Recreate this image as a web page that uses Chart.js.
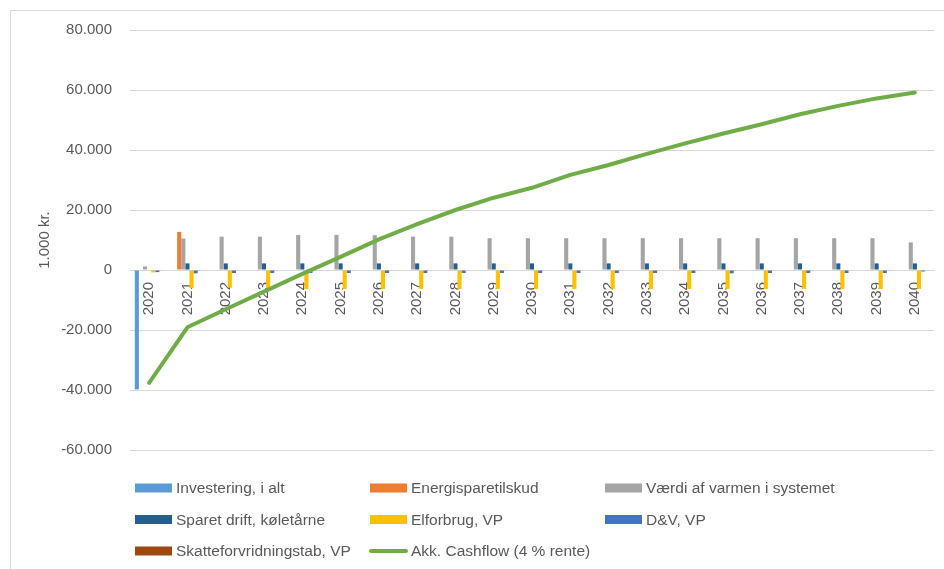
<!DOCTYPE html>
<html>
<head>
<meta charset="utf-8">
<script src="https://cdn.jsdelivr.net/npm/chart.js@4/dist/chart.umd.min.js"></script>
<style>
  html, body { margin: 0; padding: 0; background: #fff; }
  #wrap { width: 944px; height: 569px; position: relative; }
</style>
</head>
<body>
<div id="wrap"><canvas id="c" width="944" height="569"></canvas></div>
<script>
// Values in 1.000 kr.
const years = ['2020','2021','2022','2023','2024','2025','2026','2027','2028','2029','2030',
               '2031','2032','2033','2034','2035','2036','2037','2038','2039','2040'];

const investering = [-39800, null, null, null, null, null, null, null, null, null, null,
                     null, null, null, null, null, null, null, null, null, null];
const energisparetilskud = [null, 12700, null, null, null, null, null, null, null, null, null,
                            null, null, null, null, null, null, null, null, null, null];
const vaerdiVarme = [1200, 10500, 11100, 11100, 11700, 11700, 11600, 11100, 11100, 10600, 10600,
                     10600, 10600, 10600, 10600, 10600, 10600, 10600, 10600, 10600, 9200];
const sparetDrift = [0, 2200, 2200, 2200, 2200, 2200, 2200, 2200, 2200, 2200, 2200,
                     2200, 2200, 2200, 2200, 2200, 2200, 2200, 2200, 2200, 2200];
const elforbrug = [-800, -6100, -5900, -6100, -6300, -6300, -6300, -6300, -6300, -6300, -6300,
                   -6300, -6300, -6300, -6300, -6300, -6300, -6300, -6300, -6300, -6300];
const dogV = [-700, -1100, -1000, -1000, -1000, -1000, -1000, -1000, -1000, -1000, -1000,
              -1000, -1000, -1000, -1000, -1100, -1000, -1000, -1000, -1000, -500];
const skatteforvridning = [-150, -150, -150, -150, -150, -150, -150, -150, -150, -150, -150,
                           -150, -150, -150, -150, -150, -150, -150, -150, -150, -150];
const akkCashflow = [-37600, -19100, -13100, -7200, -1300, 4400, 10200, 15300, 20000, 24100, 27400,
                     31700, 35000, 38700, 42200, 45500, 48600, 51900, 54700, 57200, 59200];

const yTicks = { min: -60000, max: 80000, step: 20000 };

const FONT = '"Liberation Sans", Arial, sans-serif';
const TEXT = '#595959';
const GRID = '#d9d9d9';

function danishThousands(v) {
  const s = Math.abs(v).toString().replace(/\B(?=(\d{3})+(?!\d))/g, '.');
  return (v < 0 ? '-' : '') + s;
}

function bar(label, data, color) {
  return {
    type: 'bar', label, data,
    backgroundColor: color, borderWidth: 0,
    barPercentage: 1.0, categoryPercentage: 0.75,
    order: 1
  };
}

// Outer frame of the chart object
const frame = {
  id: 'frame',
  beforeDraw(chart) {
    const ctx = chart.ctx;
    ctx.save();
    ctx.fillStyle = '#fff';
    ctx.fillRect(0, 0, chart.width, chart.height);
    ctx.strokeStyle = GRID;
    ctx.lineWidth = 1;
    ctx.strokeRect(10.5, 10.5, chart.width + 20, chart.height + 20);
    ctx.restore();
  }
};

// Three-column legend under the plot
const gridLegend = {
  id: 'gridLegend',
  afterDraw(chart) {
    const ctx = chart.ctx;
    const sets = chart.data.datasets;
    ctx.save();
    ctx.font = '15.5px ' + FONT;
    ctx.textBaseline = 'middle';
    ctx.textAlign = 'left';
    sets.forEach((d, i) => {
      const col = i % 3, row = Math.floor(i / 3);
      const x = 135 + col * 235;
      const y = 488 + row * 31.5;
      if (d.type === 'line') {
        ctx.strokeStyle = d.borderColor;
        ctx.lineWidth = 4;
        ctx.lineCap = 'round';
        ctx.beginPath();
        ctx.moveTo(x + 1, y);
        ctx.lineTo(x + 36, y);
        ctx.stroke();
      } else {
        ctx.fillStyle = d.backgroundColor;
        ctx.fillRect(x, y - 4.5, 37, 9);
      }
      ctx.fillStyle = TEXT;
      ctx.fillText(d.label, x + 41, y + 1);
    });
    ctx.restore();
  }
};

new Chart(document.getElementById('c'), {
  type: 'bar',
  data: {
    labels: years,
    datasets: [
      bar('Investering, i alt', investering, '#5b9bd5'),
      bar('Energisparetilskud', energisparetilskud, '#ed7d31'),
      bar('Værdi af varmen i systemet', vaerdiVarme, '#a5a5a5'),
      bar('Sparet drift, køletårne', sparetDrift, '#255e91'),
      bar('Elforbrug, VP', elforbrug, '#ffc000'),
      bar('D&V, VP', dogV, '#4472c4'),
      bar('Skatteforvridningstab, VP', skatteforvridning, '#9e480e'),
      {
        type: 'line', label: 'Akk. Cashflow (4 % rente)', data: akkCashflow,
        borderColor: '#70ad47', backgroundColor: '#70ad47',
        borderWidth: 4, pointRadius: 0, tension: 0, fill: false,
        borderCapStyle: 'round', borderJoinStyle: 'round',
        order: 0
      }
    ]
  },
  options: {
    responsive: false,
    animation: false,
    devicePixelRatio: 1,
    layout: { padding: { left: 30, top: 30, right: 10, bottom: 119 } },
    plugins: {
      legend: { display: false },
      tooltip: { enabled: false }
    },
    scales: {
      x: {
        position: { y: 0 },
        offset: true,
        grid: { display: false },
        border: { display: true, color: GRID, width: 1 },
        ticks: {
          autoSkip: false, minRotation: 90, maxRotation: 90, padding: 4,
          color: TEXT, font: { family: FONT, size: 15 }
        },
        afterFit(s) { s.height = 0; }
      },
      y: {
        min: yTicks.min, max: yTicks.max,
        grid: { color: GRID, drawTicks: false },
        border: { display: false },
        ticks: {
          stepSize: yTicks.step, padding: 18,
          color: TEXT, font: { family: FONT, size: 15 },
          callback: (v) => danishThousands(v)
        },
        title: {
          display: true, text: '1.000 kr.', color: TEXT,
          font: { family: FONT, size: 15 }, padding: { top: 6, bottom: 0 }
        },
        afterFit(s) { s.width = 100; }
      }
    }
  },
  plugins: [frame, gridLegend]
});
</script>
</body>
</html>
